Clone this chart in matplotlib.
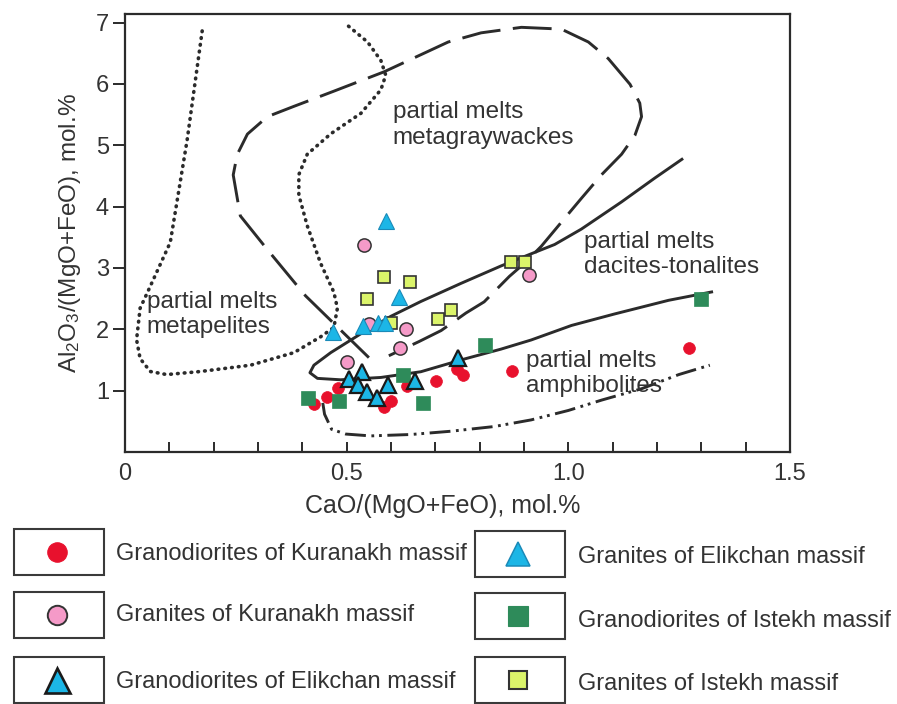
import matplotlib.pyplot as plt
from matplotlib.lines import Line2D
from matplotlib.patches import Rectangle

plt.rcParams['font.family'] = ['Liberation Sans', 'DejaVu Sans']
plt.rcParams['mathtext.fontset'] = 'custom'
plt.rcParams['mathtext.rm'] = 'Liberation Sans'
plt.rcParams['mathtext.default'] = 'regular'
plt.rcParams['lines.scale_dashes'] = False

INK = '#2b2b2b'

# CaO/(MgO+FeO) vs Al2O3/(MgO+FeO), mol.%
kur_grd_x = [0.426, 0.456, 0.480, 0.585, 0.600, 0.637, 0.702, 0.749, 0.763, 0.873, 1.271]
kur_grd_y = [0.785, 0.892, 1.046, 0.738, 0.831, 1.077, 1.158, 1.357, 1.254, 1.323, 1.703]

kur_gr_x = [0.538, 0.633, 0.620, 0.500, 0.550, 0.912]
kur_gr_y = [3.367, 2.005, 1.697, 1.466, 2.080, 2.890]

eli_grd_x = [0.505, 0.535, 0.526, 0.545, 0.569, 0.594, 0.653, 0.750]
eli_grd_y = [1.192, 1.300, 1.092, 0.977, 0.885, 1.097, 1.154, 1.538]

eli_gr_x = [0.588, 0.618, 0.468, 0.536, 0.571, 0.586]
eli_gr_y = [3.772, 2.527, 1.954, 2.058, 2.109, 2.109]

ist_grd_x = [0.412, 0.483, 0.626, 0.671, 0.811, 1.299]
ist_grd_y = [0.885, 0.826, 1.262, 0.800, 1.749, 2.500]

ist_gr_x = [0.584, 0.643, 0.545, 0.600, 0.705, 0.736, 0.871, 0.903]
ist_gr_y = [2.848, 2.770, 2.489, 2.109, 2.161, 2.317, 3.095, 3.095]

# experimental partial melt fields
metapelite_x = [0.174, 0.140, 0.102, 0.057, 0.034, 0.026, 0.034, 0.057, 0.094, 0.170,
                0.283, 0.381, 0.441, 0.471, 0.479, 0.471, 0.441, 0.411, 0.392, 0.392,
                0.411, 0.464, 0.532, 0.577, 0.588, 0.577, 0.547, 0.502]
metapelite_y = [6.865, 5.083, 3.417, 2.703, 2.344, 1.831, 1.523, 1.312, 1.262, 1.312,
                1.415, 1.620, 1.877, 2.031, 2.344, 2.605, 3.078, 3.688, 4.188, 4.522,
                4.855, 5.188, 5.522, 5.905, 6.144, 6.384, 6.685, 6.955]

graywacke_x = [0.550, 0.407, 0.321, 0.260, 0.244, 0.253, 0.276, 0.321, 0.380, 0.471,
               0.584, 0.729, 0.803, 0.894, 0.984, 1.045, 1.090, 1.139, 1.161, 1.165,
               1.150, 1.120, 1.075, 1.029, 0.984, 0.939, 0.901, 0.867, 0.810, 0.769,
               0.713, 0.663, 0.595]
graywacke_y = [1.538, 2.547, 3.300, 3.850, 4.517, 4.850, 5.183, 5.467, 5.633, 5.883,
               6.198, 6.685, 6.834, 6.924, 6.895, 6.685, 6.414, 5.995, 5.688, 5.467,
               5.162, 4.855, 4.522, 4.133, 3.745, 3.355, 3.078, 2.864, 2.448, 2.266,
               1.980, 1.800, 1.569]

tonalite_x = [1.256, 1.195, 1.120, 1.029, 0.969, 0.901, 0.848, 0.758, 0.667, 0.600,
              0.532, 0.464, 0.426, 0.417, 0.434, 0.486, 0.577, 0.667, 0.765, 0.848,
              0.916, 1.007, 1.104, 1.226, 1.323]
tonalite_y = [4.772, 4.467, 4.078, 3.633, 3.383, 3.188, 3.033, 2.750, 2.453, 2.214,
              1.928, 1.620, 1.415, 1.292, 1.200, 1.177, 1.215, 1.308, 1.515, 1.677,
              1.826, 2.063, 2.250, 2.473, 2.609]

amphibolite_x = [0.446, 0.450, 0.466, 0.498, 0.554, 0.645, 0.735, 0.833, 0.916, 1.000,
                 1.075, 1.165, 1.249, 1.319]
amphibolite_y = [0.800, 0.615, 0.369, 0.292, 0.262, 0.285, 0.338, 0.415, 0.523, 0.677,
                 0.846, 1.031, 1.262, 1.415]

field_labels = ['partial melts\nmetapelites', 'partial melts\nmetagraywackes',
                'partial melts\ndacites-tonalites', 'partial melts\namphibolites']
field_label_x = [0.049, 0.604, 1.035, 0.905]
field_label_y = [2.63, 5.72, 3.61, 1.67]

x_ticks = [0, 0.5, 1.0, 1.5]
x_tick_labels = ['0', '0.5', '1.0', '1.5']
x_minor = [0.1, 0.2, 0.3, 0.4, 0.6, 0.7, 0.8, 0.9, 1.1, 1.2, 1.3, 1.4]
y_ticks = [1, 2, 3, 4, 5, 6, 7]

# marker styles for each group
groups = [
    dict(x=kur_grd_x, y=kur_grd_y, marker='o', fc='#e8112d', ec='#e8112d', ms=8.5, mew=0.5,
         label='Granodiorites of Kuranakh massif', lms=14),
    dict(x=kur_gr_x, y=kur_gr_y, marker='o', fc='#f59ac8', ec='#333333', ms=9.5, mew=1.1,
         label='Granites of Kuranakh massif', lms=14),
    dict(x=ist_grd_x, y=ist_grd_y, marker='s', fc='#2e8b5a', ec='#2e8b5a', ms=9.5, mew=0.5,
         label='Granodiorites of Istekh massif', lms=14),
    dict(x=ist_gr_x, y=ist_gr_y, marker='s', fc='#dbf46a', ec='#333333', ms=9, mew=1.2,
         label='Granites of Istekh massif', lms=13),
    dict(x=eli_grd_x, y=eli_grd_y, marker='^', fc='#1cb6e6', ec='#1a1a1a', ms=12, mew=1.6,
         label='Granodiorites of Elikchan massif', lms=18),
    dict(x=eli_gr_x, y=eli_gr_y, marker='^', fc='#1cb6e6', ec='#1a8ab8', ms=12, mew=0.8,
         label='Granites of Elikchan massif', lms=17),
]

fig = plt.figure(figsize=(8.97, 7.04), dpi=100)
ax = fig.add_axes([0.1394, 0.358, 0.7414, 0.622])

ax.plot(metapelite_x, metapelite_y, color=INK, lw=2.6, dashes=(0.5, 4.4),
        dash_capstyle='round', zorder=2)
ax.plot(graywacke_x, graywacke_y, color=INK, lw=2.1, dashes=(28, 9), zorder=2)
ax.plot(tonalite_x, tonalite_y, color=INK, lw=2.1, zorder=2)
ax.plot(amphibolite_x, amphibolite_y, color=INK, lw=2.1,
        dashes=(15, 4, 2, 3.5, 2, 4), zorder=2)

for g in groups:
    ax.plot(g['x'], g['y'], ls='none', marker=g['marker'], ms=g['ms'],
            mfc=g['fc'], mec=g['ec'], mew=g['mew'], zorder=3)

for txt, tx, ty in zip(field_labels, field_label_x, field_label_y):
    ax.text(tx, ty, txt, fontsize=17.5, color='#333333', va='top', ha='left', zorder=4)

ax.set_xlim(0, 1.5)
ax.set_ylim(0, 7.14)
ax.set_xticks(x_ticks)
ax.set_xticklabels(x_tick_labels)
ax.set_xticks(x_minor, minor=True)
ax.set_yticks(y_ticks)
ax.tick_params(axis='x', which='both', direction='in', length=7, width=1.4,
               color=INK, labelsize=17, labelcolor='#333333', pad=8)
ax.tick_params(axis='y', direction='out', length=8.5, width=1.4,
               color=INK, labelsize=17, labelcolor='#333333', pad=3)
for s in ax.spines.values():
    s.set_linewidth(1.6)
    s.set_color(INK)

ax.set_xlabel('CaO/(MgO+FeO), mol.%', fontsize=18, color='#333333', va='center')
ax.xaxis.set_label_coords(0.478, -0.123)
ax.set_ylabel('Al$_2$O$_3$/(MgO+FeO), mol.%', fontsize=17.5, color='#333333', va='center')
ax.yaxis.set_label_coords(-0.083, 0.5)

# legend boxes below the plot, laid out in figure pixels
W, H = 897.0, 704.0
legend_order = [0, 1, 4, 5, 2, 3]
box_left = [14, 14, 14, 475, 475, 475]
box_top = [529, 592, 657, 531, 593, 657]
text_x = [116, 116, 116, 578, 578, 578]
text_dy = [2, 0, 2, 3, 5, 4]
box_w, box_h = 90, 46

for k, gi in enumerate(legend_order):
    g = groups[gi]
    bx, by = box_left[k], box_top[k]
    fig.add_artist(Rectangle((bx / W, 1 - (by + box_h) / H), box_w / W, box_h / H,
                             transform=fig.transFigure, fill=False, ec='#3a3a3a', lw=1.5))
    cx = (bx + 43) / W
    cy = 1 - (by + box_h / 2) / H
    fig.add_artist(Line2D([cx], [cy], transform=fig.transFigure, ls='none',
                          marker=g['marker'], ms=g['lms'], mfc=g['fc'], mec=g['ec'],
                          mew=g['mew'] + 0.3))
    fig.text(text_x[k] / W, cy - text_dy[k] / H, g['label'], fontsize=17,
             color='#333333', va='center', ha='left')

fig.savefig('out.png', dpi=100)
